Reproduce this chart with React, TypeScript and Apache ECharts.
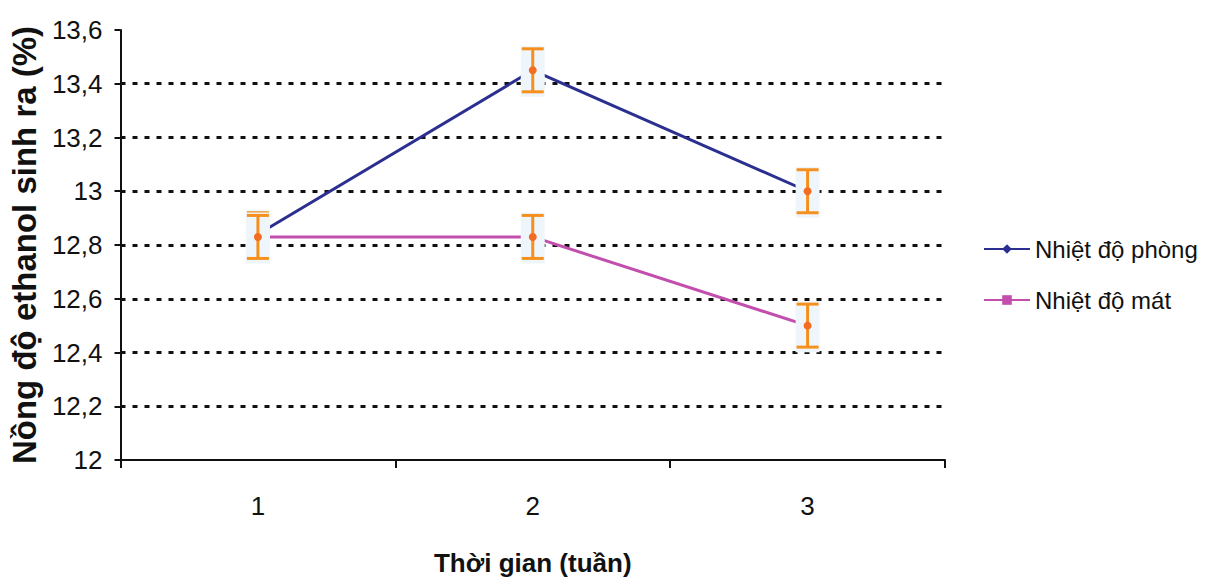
import React, { useEffect, useRef } from "react";
import * as echarts from "echarts";

const categories = ["1", "2", "3"];
const roomTemp = [12.84, 13.45, 13.0];
const coolTemp = [12.83, 12.83, 12.5];
const roomErr = [0.08, 0.08, 0.08];
const coolErr = [0.08, 0.08, 0.08];
const seriesNames = ["Nhiệt độ phòng", "Nhiệt độ mát"];
const yTicks = { min: 12, max: 13.6, interval: 0.2 };

const FONT = "'Liberation Sans', Arial, sans-serif";

export default function App() {
  const ref = useRef<HTMLDivElement>(null);
  useEffect(() => {
    const chart = echarts.init(ref.current!, null, { renderer: "svg" });
    const errData: number[][] = [];
    roomTemp.forEach((v, i) => errData.push([i, v - roomErr[i], v + roomErr[i], v]));
    coolTemp.forEach((v, i) => errData.push([i, v - coolErr[i], v + coolErr[i], v]));

    const renderErr = (params: any, api: any) => {
      const x = api.value(0);
      const lo = api.coord([x, api.value(1)]);
      const hi = api.coord([x, api.value(2)]);
      const mid = api.coord([x, api.value(3)]);
      const cx = lo[0];
      const cap = 11;
      const stroke = { stroke: "#f5901e", lineWidth: 3 };
      return {
        type: "group",
        children: [
          {
            type: "rect",
            shape: { x: cx - 12, y: hi[1] - 3, width: 24, height: lo[1] - hi[1] + 8 },
            style: { fill: "#eef6fb" },
          },
          { type: "line", shape: { x1: cx, y1: hi[1], x2: cx, y2: lo[1] }, style: stroke },
          { type: "line", shape: { x1: cx - cap, y1: hi[1], x2: cx + cap, y2: hi[1] }, style: stroke },
          { type: "line", shape: { x1: cx - cap, y1: lo[1], x2: cx + cap, y2: lo[1] }, style: stroke },
          { type: "circle", shape: { cx, cy: mid[1], r: 4 }, style: { fill: "#f26c22" } },
        ],
      };
    };

    chart.setOption({
      animation: false,
      backgroundColor: "#ffffff",
      grid: { left: 120, right: 262, top: 30, bottom: 123 },
      legend: {
        orient: "vertical",
        left: 978,
        top: 232,
        itemWidth: 46,
        itemHeight: 12,
        itemGap: 27,
        textStyle: { fontFamily: FONT, fontSize: 24, color: "#111" },
        data: seriesNames,
      },
      xAxis: {
        type: "category",
        data: categories,
        boundaryGap: true,
        axisLine: { lineStyle: { color: "#111", width: 2 } },
        axisTick: { show: true, length: 8, lineStyle: { color: "#111", width: 2 } },
        axisLabel: { fontFamily: FONT, fontSize: 26, color: "#111", margin: 33 },
        name: "Thời gian (tuần)",
        nameLocation: "middle",
        nameGap: 90,
        nameTextStyle: { fontFamily: FONT, fontSize: 26, fontWeight: "bold", color: "#111" },
      },
      yAxis: {
        type: "value",
        min: yTicks.min,
        max: yTicks.max,
        interval: yTicks.interval,
        axisLine: { show: true, lineStyle: { color: "#111", width: 2 } },
        axisTick: { show: true, length: 6, lineStyle: { color: "#111", width: 2 } },
        axisLabel: {
          fontFamily: FONT,
          fontSize: 26,
          color: "#111",
          margin: 18,
          formatter: (v: number) => String(Math.round(v * 10) / 10).replace(".", ","),
        },
        splitLine: {
          show: true,
          showMinLine: false,
          showMaxLine: false,
          lineStyle: { color: "#111", width: 3, type: [5, 7] },
        },
        name: "Nồng độ ethanol sinh ra (%)",
        nameLocation: "middle",
        nameGap: 76,
        nameTextStyle: { fontFamily: FONT, fontSize: 33, fontWeight: "bold", color: "#111" },
      },
      series: [
        {
          name: seriesNames[0],
          type: "line",
          data: roomTemp,
          symbol: "diamond",
          symbolSize: 11,
          itemStyle: { color: "#2b2f8f" },
          lineStyle: { color: "#2b2f8f", width: 3 },
          z: 3,
        },
        {
          name: seriesNames[1],
          type: "line",
          data: coolTemp,
          symbol: "rect",
          symbolSize: 10,
          itemStyle: { color: "#c24fae" },
          lineStyle: { color: "#c24fae", width: 3 },
          z: 3,
        },
        {
          type: "custom",
          data: errData,
          renderItem: renderErr,
          z: 5,
          silent: true,
        },
      ],
    });
    return () => chart.dispose();
  }, []);
  return <div ref={ref} style={{ width: 1207, height: 583, marginLeft: -8, marginTop: -8 }} />;
}
